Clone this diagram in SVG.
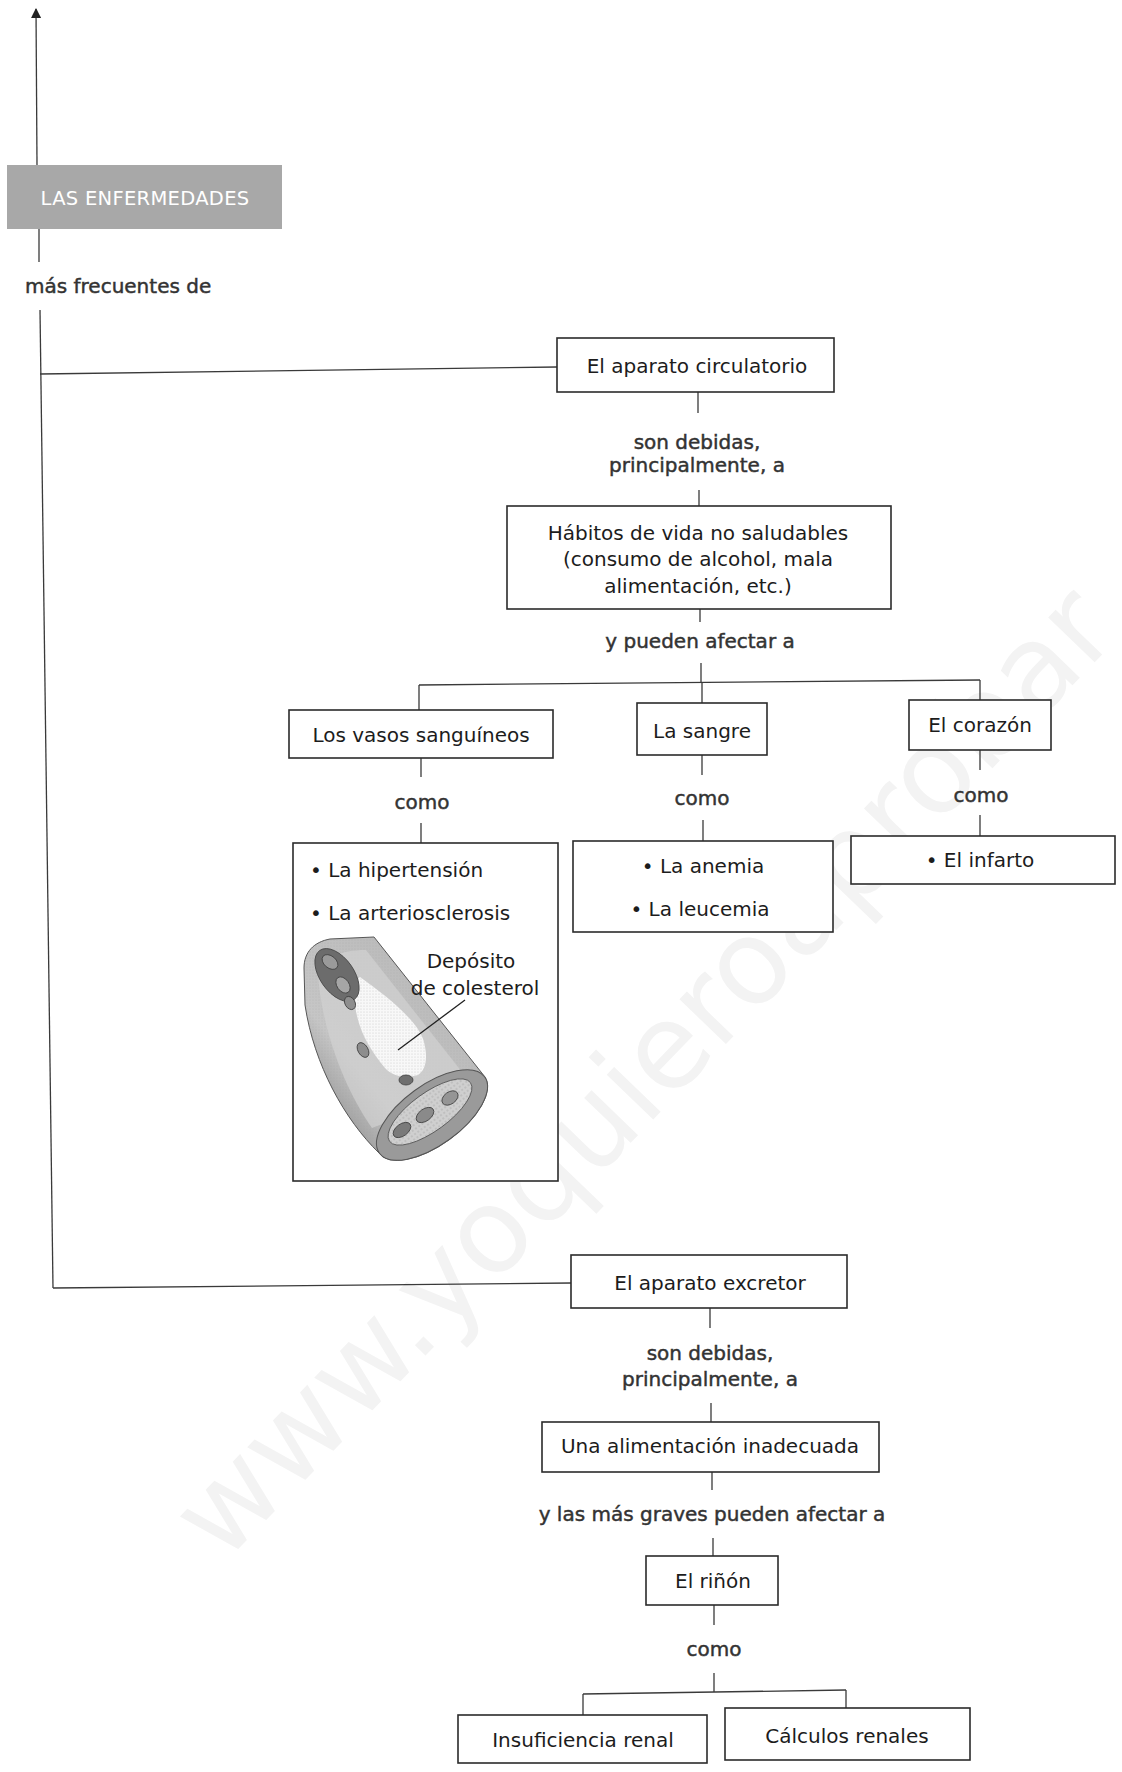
<svg xmlns="http://www.w3.org/2000/svg" width="1122" height="1772" viewBox="0 0 1122 1772">
  <style>
    .t { font-family: "DejaVu Sans", "Liberation Sans", sans-serif; font-size: 20px; fill: #1c1c1c; text-anchor: middle; }
    .ts { text-anchor: start; }
    .lbl { font-family: "DejaVu Sans", "Liberation Sans", sans-serif; font-size: 20px; fill: #333; stroke: #333; stroke-width: 0.45; text-anchor: middle; }
    .box { fill: #fff; stroke: #2b2b2b; stroke-width: 1.6; }
    .ln { stroke: #3a3a3a; stroke-width: 1.3; fill: none; }
    .wm { font-family: "DejaVu Sans", "Liberation Sans", sans-serif; font-size: 118px; fill: #f3f3f3; text-anchor: middle; }
    .cell { stroke: #3e3e3e; stroke-width: 0.8; }
  </style>
  <defs>
    <marker id="arrow" viewBox="0 0 10 10" refX="9" refY="5" markerWidth="8" markerHeight="8" orient="auto">
      <path d="M0,0 L10,5 L0,10 Z" fill="#222"/>
    </marker>
    <pattern id="dots" width="4" height="4" patternUnits="userSpaceOnUse">
      <circle cx="1" cy="1" r="0.7" fill="#777"/>
    </pattern>
    <pattern id="fineDots" width="3" height="3" patternUnits="userSpaceOnUse">
      <circle cx="1" cy="1" r="0.5" fill="#999"/>
    </pattern>
    <linearGradient id="wall" x1="0" y1="1" x2="1" y2="0">
      <stop offset="0" stop-color="#6f6f6f"/>
      <stop offset="0.35" stop-color="#c6c6c6"/>
      <stop offset="0.7" stop-color="#bcbcbc"/>
      <stop offset="1" stop-color="#858585"/>
    </linearGradient>
  </defs>

  <rect width="1122" height="1772" fill="#fff"/>

  <!-- site watermark, very faint -->
  <text class="wm" transform="translate(672,1100) rotate(-46)">www.yoquieroaprobar</text>

  <!-- connectors -->
  <g id="connectors">
    <line class="ln" x1="37" y1="165" x2="36" y2="9" marker-end="url(#arrow)"/>
    <line class="ln" x1="39" y1="229" x2="39" y2="262"/>
    <line class="ln" x1="40" y1="310" x2="53" y2="1288"/>
    <line class="ln" x1="40" y1="374" x2="557" y2="367"/>
    <line class="ln" x1="53" y1="1288" x2="571" y2="1283"/>

    <line class="ln" x1="698" y1="392" x2="698" y2="413"/>
    <line class="ln" x1="699" y1="490" x2="699" y2="506"/>
    <line class="ln" x1="700" y1="609" x2="700" y2="622"/>
    <line class="ln" x1="701" y1="663" x2="701" y2="683"/>
    <line class="ln" x1="419" y1="685" x2="980" y2="680"/>
    <line class="ln" x1="419" y1="685" x2="419" y2="710"/>
    <line class="ln" x1="702" y1="683" x2="702" y2="703"/>
    <line class="ln" x1="980" y1="680" x2="980" y2="700"/>

    <line class="ln" x1="421" y1="758" x2="421" y2="777"/>
    <line class="ln" x1="421" y1="823" x2="421" y2="843"/>
    <line class="ln" x1="702" y1="755" x2="702" y2="775"/>
    <line class="ln" x1="703" y1="820" x2="703" y2="841"/>
    <line class="ln" x1="980" y1="750" x2="980" y2="770"/>
    <line class="ln" x1="980" y1="815" x2="980" y2="836"/>

    <line class="ln" x1="710" y1="1308" x2="710" y2="1328"/>
    <line class="ln" x1="711" y1="1403" x2="711" y2="1422"/>
    <line class="ln" x1="712" y1="1472" x2="712" y2="1490"/>
    <line class="ln" x1="713" y1="1538" x2="713" y2="1556"/>
    <line class="ln" x1="714" y1="1605" x2="714" y2="1625"/>
    <line class="ln" x1="714" y1="1673" x2="714" y2="1692"/>
    <line class="ln" x1="583" y1="1694" x2="846" y2="1690"/>
    <line class="ln" x1="583" y1="1694" x2="583" y2="1715"/>
    <line class="ln" x1="846" y1="1690" x2="846" y2="1708"/>
  </g>

  <!-- linking phrases -->
  <g id="labels">
    <text class="lbl" x="25" y="293" style="text-anchor:start">más frecuentes de</text>
    <text class="lbl" x="697" y="449">son debidas,</text>
    <text class="lbl" x="697" y="472">principalmente, a</text>
    <text class="lbl" x="700" y="648">y pueden afectar a</text>
    <text class="lbl" x="422" y="809">como</text>
    <text class="lbl" x="702" y="805">como</text>
    <text class="lbl" x="981" y="802">como</text>
    <text class="lbl" x="710" y="1360">son debidas,</text>
    <text class="lbl" x="710" y="1386">principalmente, a</text>
    <text class="lbl" x="712" y="1521">y las más graves pueden afectar a</text>
    <text class="lbl" x="714" y="1656">como</text>
  </g>

  <g id="n-title">
    <rect x="7" y="165" width="275" height="64" fill="#a8a8a8"/>
    <text class="t" x="145" y="205" style="fill:#fff;font-size:19.5px;letter-spacing:0.3px">LAS ENFERMEDADES</text>
  </g>

  <g id="n-circulatorio">
    <rect class="box" x="557" y="338" width="277" height="54"/>
    <text class="t" x="697" y="373">El aparato circulatorio</text>
  </g>

  <g id="n-habitos">
    <rect class="box" x="507" y="506" width="384" height="103"/>
    <text class="t" x="698" y="540">Hábitos de vida no saludables</text>
    <text class="t" x="698" y="566">(consumo de alcohol, mala</text>
    <text class="t" x="698" y="593">alimentación, etc.)</text>
  </g>

  <g id="n-vasos">
    <rect class="box" x="289" y="710" width="264" height="48"/>
    <text class="t" x="421" y="742">Los vasos sanguíneos</text>
  </g>

  <g id="n-sangre">
    <rect class="box" x="637" y="703" width="130" height="52"/>
    <text class="t" x="702" y="738">La sangre</text>
  </g>

  <g id="n-corazon">
    <rect class="box" x="909" y="700" width="142" height="50"/>
    <text class="t" x="980" y="732">El corazón</text>
  </g>

  <g id="n-hipertension">
    <rect class="box" x="293" y="843" width="265" height="338"/>
    <text class="t ts" x="310" y="877">• La hipertensión</text>
    <text class="t ts" x="310" y="920">• La arteriosclerosis</text>
    <!-- cut-away of an artery with a cholesterol deposit -->
    <g id="artery">
      <path d="M304,968 C304,952 314,942 330,939 L374,937 L485,1077 A65 30 -36 0 1 379,1153 C345,1120 314,1065 305,1005 Z" fill="url(#wall)" stroke="#555" stroke-width="1"/>
      <path d="M304,968 C304,952 314,942 330,939 L374,937 L485,1077 A65 30 -36 0 1 379,1153 C345,1120 314,1065 305,1005 Z" fill="url(#fineDots)" opacity="0.45"/>
      <!-- inner wall band -->
      <path d="M318,975 C322,958 340,950 366,950 L462,1072 C430,1100 395,1120 372,1128 C345,1090 322,1030 318,975 Z" fill="#d2d2d2" opacity="0.7"/>
      <!-- deposit inside the lumen -->
      <path d="M360,977 C385,995 418,1020 424,1042 C428,1058 426,1070 418,1075 C405,1079 392,1076 385,1068 C370,1050 358,1030 355,1005 C354,990 355,980 360,977 Z" fill="#f8f8f8"/>
      <path d="M360,977 C385,995 418,1020 424,1042 C428,1058 426,1070 418,1075 C405,1079 392,1076 385,1068 C370,1050 358,1030 355,1005 C354,990 355,980 360,977 Z" fill="url(#fineDots)" opacity="0.6"/>
      <!-- open upper end with blood cells -->
      <ellipse cx="337" cy="975" rx="30" ry="17" transform="rotate(55 337 975)" fill="#6c6c6c" stroke="#444" stroke-width="0.8"/>
      <ellipse class="cell" cx="330" cy="962" rx="9" ry="6" transform="rotate(40 330 962)" fill="#9a9a9a"/>
      <ellipse class="cell" cx="343" cy="985" rx="9" ry="6" transform="rotate(55 343 985)" fill="#a6a6a6"/>
      <ellipse class="cell" cx="350" cy="1003" rx="7" ry="5" transform="rotate(60 350 1003)" fill="#8e8e8e"/>
      <ellipse class="cell" cx="363" cy="1050" rx="8" ry="5" transform="rotate(60 363 1050)" fill="#8d8d8d"/>
      <ellipse class="cell" cx="406" cy="1080" rx="7" ry="5" fill="#6f6f6f"/>
      <!-- lower cut face: wall ring and cells -->
      <ellipse cx="432" cy="1115" rx="65" ry="30" transform="rotate(-36 432 1115)" fill="#9a9a9a" stroke="#555" stroke-width="1"/>
      <ellipse cx="430" cy="1112" rx="50" ry="19" transform="rotate(-36 430 1112)" fill="#cfcfcf" stroke="#5c5c5c" stroke-width="0.9"/>
      <ellipse cx="430" cy="1112" rx="50" ry="19" transform="rotate(-36 430 1112)" fill="url(#dots)" opacity="0.5"/>
      <ellipse class="cell" cx="402" cy="1130" rx="10" ry="6" transform="rotate(-36 402 1130)" fill="#7a7a7a"/>
      <ellipse class="cell" cx="425" cy="1115" rx="10" ry="6" transform="rotate(-36 425 1115)" fill="#8a8a8a"/>
      <ellipse class="cell" cx="450" cy="1098" rx="9" ry="6" transform="rotate(-36 450 1098)" fill="#959595"/>
    </g>
    <line x1="465" y1="1000" x2="398" y2="1050" stroke="#222" stroke-width="1.3"/>
    <text class="t" x="471" y="968">Depósito</text>
    <text class="t" x="475" y="995">de colesterol</text>
  </g>

  <g id="n-anemia">
    <rect class="box" x="573" y="841" width="260" height="91"/>
    <text class="t" x="703" y="873">• La anemia</text>
    <text class="t" x="700" y="916">• La leucemia</text>
  </g>

  <g id="n-infarto">
    <rect class="box" x="851" y="836" width="264" height="48"/>
    <text class="t" x="980" y="867">• El infarto</text>
  </g>

  <g id="n-excretor">
    <rect class="box" x="571" y="1255" width="276" height="53"/>
    <text class="t" x="710" y="1290">El aparato excretor</text>
  </g>

  <g id="n-alimentacion">
    <rect class="box" x="542" y="1422" width="337" height="50"/>
    <text class="t" x="710" y="1453">Una alimentación inadecuada</text>
  </g>

  <g id="n-rinon">
    <rect class="box" x="646" y="1556" width="132" height="49"/>
    <text class="t" x="713" y="1588">El riñón</text>
  </g>

  <g id="n-insuficiencia">
    <rect class="box" x="458" y="1715" width="249" height="48"/>
    <text class="t" x="583" y="1747">Insuficiencia renal</text>
  </g>

  <g id="n-calculos">
    <rect class="box" x="725" y="1708" width="245" height="52"/>
    <text class="t" x="847" y="1743">Cálculos renales</text>
  </g>
</svg>
